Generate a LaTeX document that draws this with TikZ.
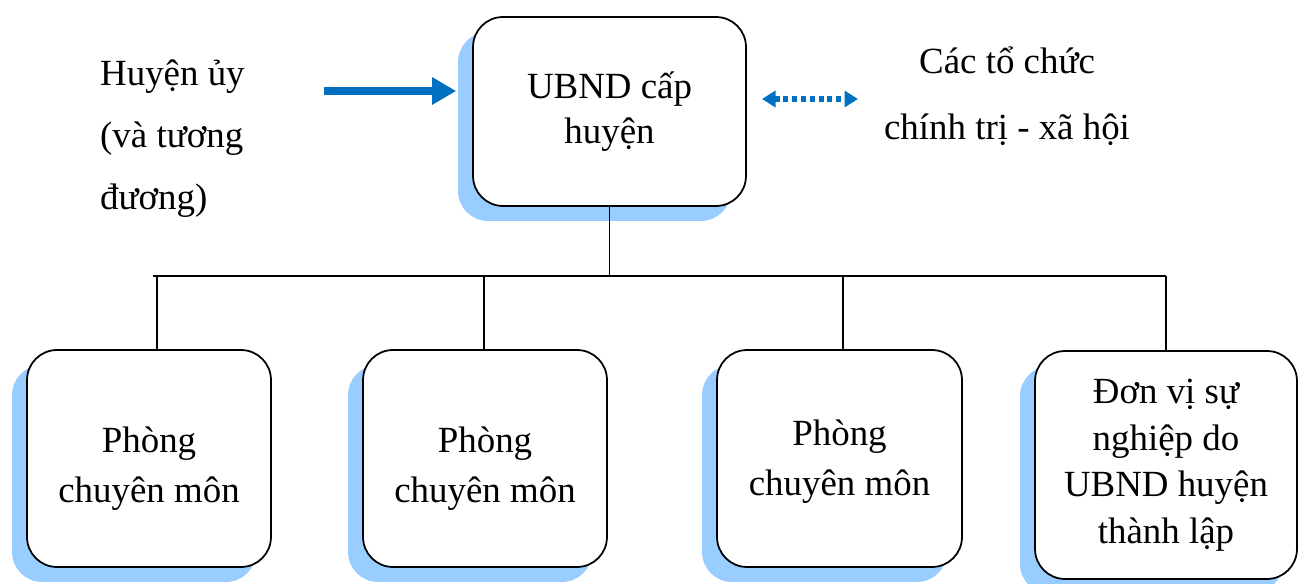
\documentclass[tikz,border=0pt]{standalone}
\usepackage{fontspec}
\setmainfont{Liberation Serif}
\usetikzlibrary{shadows,arrows.meta}
\definecolor{shadowblue}{HTML}{99CCFF}
\definecolor{arrowblue}{HTML}{0070C0}

\begin{document}
\begin{tikzpicture}[x=0.02cm, y=-0.02cm,
  unitbox/.style={rectangle, rounded corners=0.6cm, draw, line width=1pt, fill=white, align=center,
    font=\fontsize{21}{25.5}\selectfont,
    general shadow={shadow xshift=-0.3cm, shadow yshift=-0.3cm, fill=shadowblue}},
  roomtext/.style={align=center, font=\fontsize{21}{28.4}\selectfont},
  sidetext/.style={font=\fontsize{21}{35.2}\selectfont}]

\useasboundingbox (0,0) rectangle (1298,584);

% Define the coordinates for the branch points
\coordinate (bar) at (153,276);
\coordinate (barend) at (1166,276);
\coordinate (d1) at (157,276);
\coordinate (d2) at (484,276);
\coordinate (d3) at (843,276);
\coordinate (d4) at (1166,276);
\coordinate (arrstart) at (324,91);
\coordinate (dotleft) at (762,99);
\coordinate (dotright) at (858,99);

% Place the boxes
\node[unitbox, minimum width=5.46cm, minimum height=3.78cm] (ubnd) at (609.5,111.5) {UBND cấp\\huyện};
\node[unitbox, minimum width=4.88cm, minimum height=4.34cm] (p1) at (149,458.5) {};
\node[unitbox, minimum width=4.88cm, minimum height=4.34cm] (p2) at (485,458.5) {};
\node[unitbox, minimum width=4.9cm, minimum height=4.34cm] (p3) at (839.5,458.5) {};
\node[unitbox, minimum width=5.24cm, minimum height=4.56cm, font=\fontsize{21}{26.5}\selectfont] (dv) at (1166,465) {Đơn vị sự\\nghiệp do\\UBND huyện\\thành lập};

% Texts of the rooms
\node[roomtext] (t1) at (149,469) {Phòng\\chuyên môn};
\node[roomtext] (t2) at (485,469) {Phòng\\chuyên môn};
\node[roomtext] (t3) at (839.5,462) {Phòng\\chuyên môn};

% Place the side texts
\node[sidetext, align=left, anchor=west] (hu) at (94,138.5) {Huyện ủy\\(và tương\\đương)};
\node[sidetext, align=center, font=\fontsize{21}{37.5}\selectfont] (tc) at (1007,96) {Các tổ chức\\chính trị - xã hội};

% Draw the arrows
\draw[arrowblue, line width=4.5pt, -{Triangle[length=0.48cm, width=0.52cm]}] (arrstart) -- ([xshift=-0.32cm]arrstart -| ubnd.west);
\draw[arrowblue, line width=3pt, dash pattern=on 2.8pt off 2.2pt,
  {Triangle[length=0.27cm, width=0.32cm]}-{Triangle[length=0.27cm, width=0.32cm]}] (dotleft) -- (dotright);

% Draw the tree lines
\draw[line width=0.8pt] (ubnd.south) -- (ubnd.south |- bar);
\draw[line width=0.8pt] (bar) -- (barend);
\draw[line width=0.8pt] (d1) -- (d1 |- p1.north);
\draw[line width=0.8pt] (d2) -- (d2 |- p2.north);
\draw[line width=0.8pt] (d3) -- (d3 |- p3.north);
\draw[line width=0.8pt] (d4) -- (d4 |- dv.north);

\end{tikzpicture}
\end{document}
